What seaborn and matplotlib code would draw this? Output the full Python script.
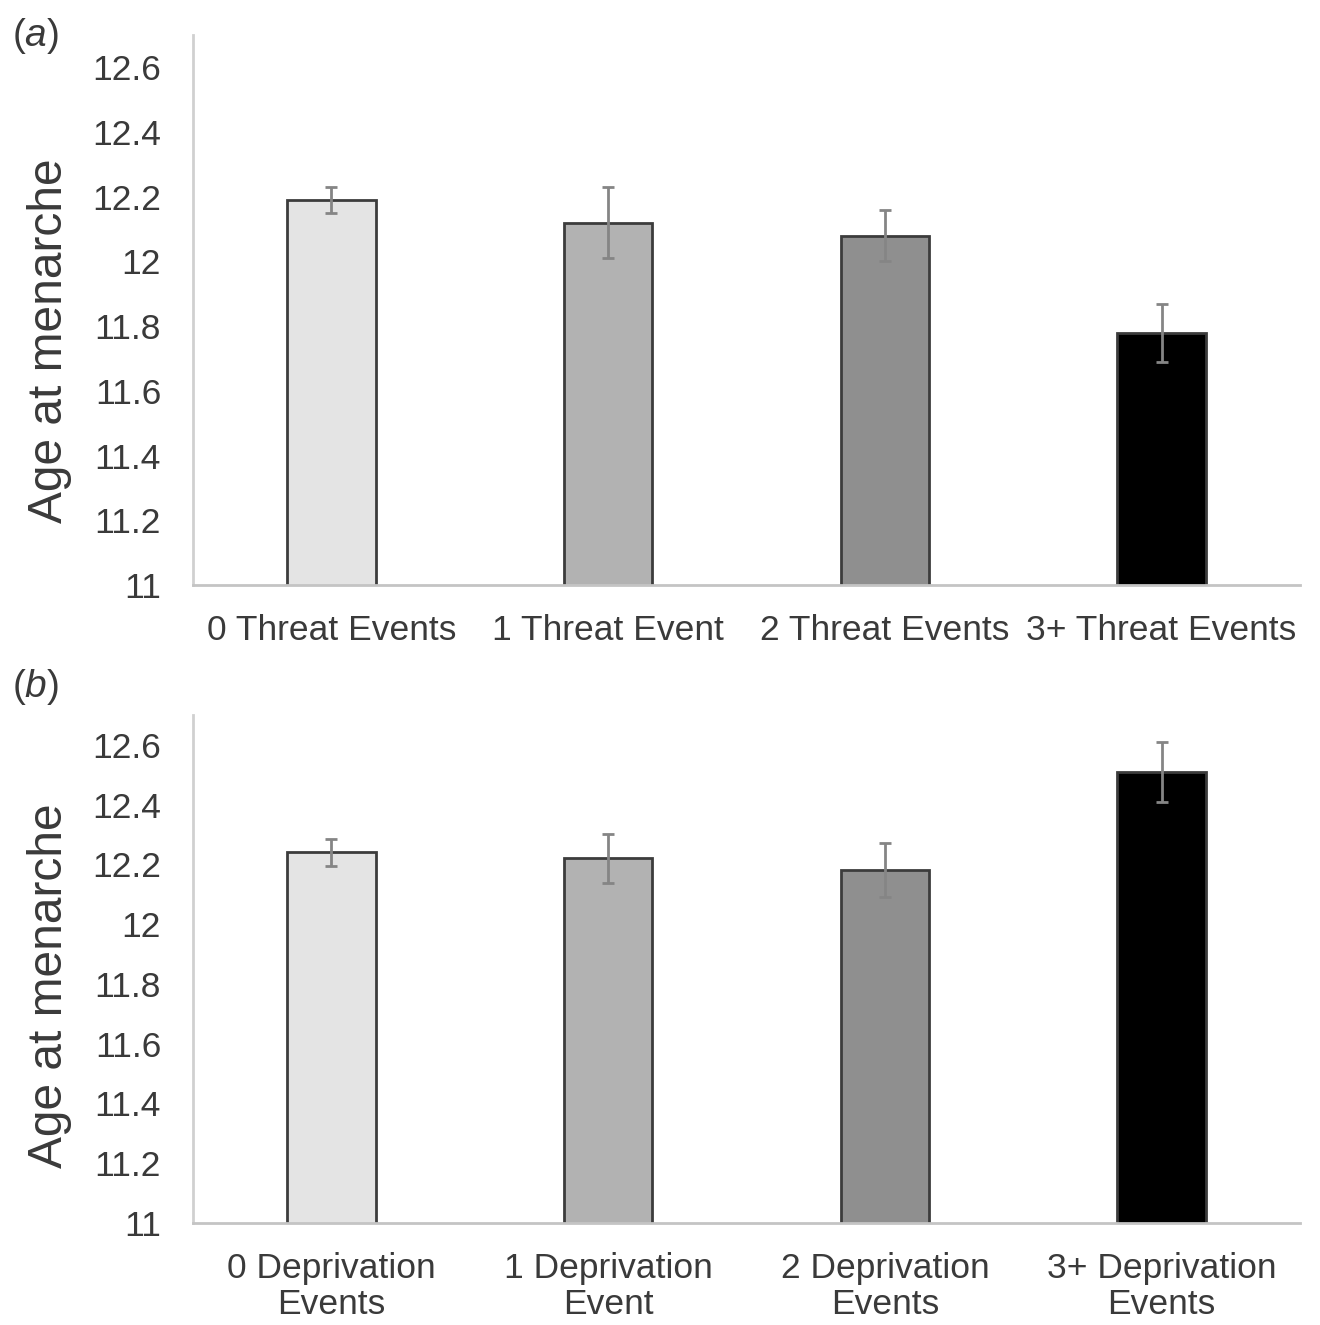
import numpy as np
import matplotlib
matplotlib.use("Agg")
import matplotlib.pyplot as plt
import seaborn as sns

# data
threat_cats = ["0 Threat Events", "1 Threat Event", "2 Threat Events", "3+ Threat Events"]
threat_means = [12.19, 12.12, 12.08, 11.78]
threat_err = [0.04, 0.11, 0.08, 0.09]

depriv_cats = ["0 Deprivation\nEvents", "1 Deprivation\nEvent", "2 Deprivation\nEvents", "3+ Deprivation\nEvents"]
depriv_means = [12.24, 12.22, 12.18, 12.51]
depriv_err = [0.045, 0.083, 0.09, 0.10]

bar_colors = ["#e4e4e4", "#b2b2b2", "#8f8f8f", "#000000"]
yticks = [11, 11.2, 11.4, 11.6, 11.8, 12, 12.2, 12.4, 12.6]
ytick_labels = ["11", "11.2", "11.4", "11.6", "11.8", "12", "12.2", "12.4", "12.6"]

sns.set_style("white")
plt.rcParams["font.family"] = ["Liberation Sans", "DejaVu Sans"]
plt.rcParams["mathtext.fontset"] = "custom"
plt.rcParams["mathtext.rm"] = "Liberation Sans"
plt.rcParams["mathtext.it"] = "Liberation Sans:italic"
text_col = "#3a3a3a"

fig = plt.figure(figsize=(13.2, 13.25), dpi=100)
ax1 = fig.add_axes([193 / 1320, 1 - 585 / 1325, 1107 / 1320, 550 / 1325])
ax2 = fig.add_axes([193 / 1320, 1 - 1223 / 1325, 1107 / 1320, 508 / 1325])


def draw_panel(ax, cats, means, errs, label_y):
    sns.barplot(x=cats, y=means, hue=cats, palette=bar_colors, legend=False,
                width=0.32, edgecolor="#3c3c3c", linewidth=2, ax=ax)
    ax.errorbar(np.arange(len(cats)), means, yerr=errs, fmt="none",
                ecolor="#858585", elinewidth=2, capsize=4.5, capthick=2)
    ax.set_ylim(11, 12.7)
    ax.set_xlim(-0.5, 3.5)
    ax.set_yticks(yticks)
    ax.set_yticklabels(ytick_labels)
    ax.tick_params(axis="y", length=0, pad=23, labelsize=25.5, labelcolor=text_col)
    ax.tick_params(axis="x", length=0, pad=21, labelsize=25.5, labelcolor=text_col)
    for s in ["top", "right"]:
        ax.spines[s].set_visible(False)
    ax.spines["left"].set_color("#d0d0d0")
    ax.spines["left"].set_linewidth(2)
    ax.spines["bottom"].set_color("#c4c4c4")
    ax.spines["bottom"].set_linewidth(2)
    ax.set_xlabel("")
    ax.set_ylabel("Age at menarche", fontsize=34.5, color=text_col)
    ax.yaxis.set_label_coords(-0.109, label_y)


draw_panel(ax1, threat_cats, threat_means, threat_err, 0.444)
draw_panel(ax2, depriv_cats, depriv_means, depriv_err, 0.467)
for lbl in ax2.get_xticklabels():
    lbl.set_linespacing(1.12)

fig.text(12 / 1320, 1 - 36 / 1325, "($\\mathit{a}$)", fontsize=28, color=text_col, va="center")
fig.text(12 / 1320, 1 - 687 / 1325, "($\\mathit{b}$)", fontsize=28, color=text_col, va="center")

fig.savefig("out.png", dpi=100, facecolor="white")
